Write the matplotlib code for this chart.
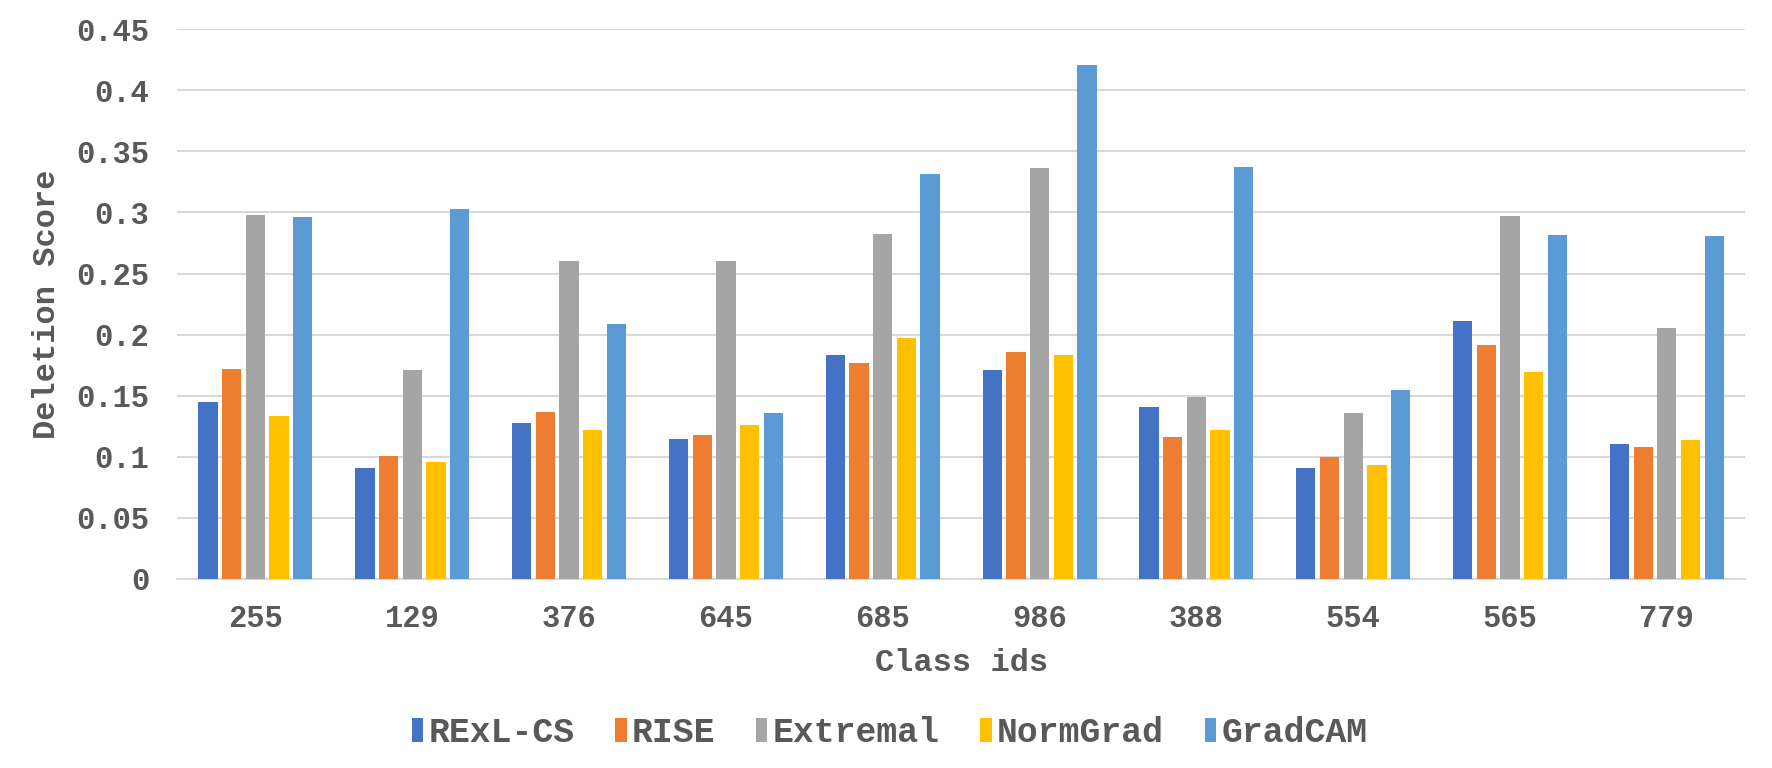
import matplotlib
matplotlib.use("Agg")
import matplotlib.pyplot as plt
import numpy as np

# fonts: Courier-like bold, like the original
plt.rcParams['font.family'] = ['Liberation Mono', 'DejaVu Sans Mono']
plt.rcParams['font.weight'] = 'bold'
plt.rcParams['axes.labelweight'] = 'bold'

class_ids = ['255', '129', '376', '645', '685', '986', '388', '554', '565', '779']
methods = ['RExL-CS', 'RISE', 'Extremal', 'NormGrad', 'GradCAM']

rexl_cs = [0.1445, 0.0905, 0.128, 0.1142, 0.1836, 0.1707, 0.1404, 0.0907, 0.2115, 0.1107]
rise = [0.172, 0.1008, 0.137, 0.118, 0.1765, 0.186, 0.1158, 0.0995, 0.1918, 0.1077]
extremal = [0.2975, 0.1707, 0.260, 0.260, 0.282, 0.336, 0.149, 0.1355, 0.2967, 0.205]
normgrad = [0.1336, 0.0959, 0.1216, 0.126, 0.1975, 0.1836, 0.1216, 0.0929, 0.1697, 0.1134]
gradcam = [0.296, 0.3025, 0.209, 0.1355, 0.3314, 0.4205, 0.3369, 0.1544, 0.2811, 0.281]

colors = ['#4472C4', '#ED7D31', '#A5A5A5', '#FFC000', '#5B9BD5']
txt_col = '#595959'
fs = 22

fig = plt.figure(figsize=(17.72, 7.68), dpi=100)
ax = fig.add_axes([0.0999, 0.2461, 0.885, 0.716])

x = np.arange(len(class_ids))
series = [rexl_cs, rise, extremal, normgrad, gradcam]
pitch = 0.151
width = 0.123
for i, vals in enumerate(series):
    ax.bar(x + (i - 2) * pitch, vals, width, color=colors[i], label=methods[i], zorder=3)

ax.set_xlim(-0.5, len(class_ids) - 0.5)
ax.set_ylim(0, 0.45)
ax.set_yticks(np.arange(0, 0.451, 0.05))
ax.set_yticklabels(['0', '0.05', '0.1', '0.15', '0.2', '0.25', '0.3', '0.35', '0.4', '0.45'])
ax.set_xticks(x)
ax.set_xticklabels(class_ids)
ax.yaxis.grid(True, color='#D9D9D9', linewidth=1.5, zorder=0)
ax.set_axisbelow(True)
for s in ['top', 'right', 'left']:
    ax.spines[s].set_visible(False)
ax.spines['bottom'].set_color('#D9D9D9')
ax.spines['bottom'].set_linewidth(1.5)
ax.tick_params(axis='both', length=0, labelsize=fs, colors=txt_col)
ax.tick_params(axis='y', pad=20)
ax.tick_params(axis='x', pad=18)

ax.set_xlabel('Class ids', fontsize=fs + 1, color=txt_col, labelpad=10)
ax.set_ylabel('Deletion Score', fontsize=fs + 1, color=txt_col, labelpad=10)

fig.legend(loc='center', bbox_to_anchor=(0.502, 0.046), ncol=5, frameon=False,
           fontsize=25, handlelength=0.33, handleheight=0.65, handletextpad=0.15,
           columnspacing=1.17, labelcolor=txt_col)

fig.savefig('out.png', dpi=100, facecolor='white')
